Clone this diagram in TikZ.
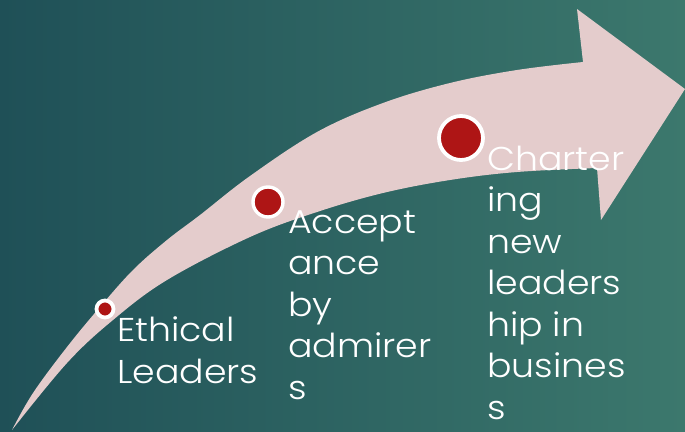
\documentclass[tikz,border=0pt]{standalone}
\usepackage{fontspec}
\setmainfont{Poppins Light}[FakeStretch=1.1]
\definecolor{bgleft}{HTML}{1F5057}
\definecolor{bgright}{HTML}{3C786D}
\definecolor{arrowpink}{HTML}{E4CCCC}
\definecolor{dotred}{HTML}{AE1515}

\begin{document}
\begin{tikzpicture}[x=1pt,y=-1pt]

\tikzstyle{dot}=[circle,fill=dotred,draw=white,inner sep=0pt]
\tikzstyle{txt}=[text=white,anchor=base west,align=left,inner sep=0pt,font=\fontsize{33}{41.5}\selectfont]

\useasboundingbox (0,0) rectangle (685,431);
\shade[left color=bgleft,right color=bgright] (0,0) rectangle (685,431);

% the rising arrow
\fill[arrowpink] plot[smooth,tension=0.6] coordinates {(12,430) (33,393) (67,347) (100,307) (133,270) (167,240) (200,215) (250,176) (317,132) (383,103) (450,83) (517,70) (583,62)}
  -- (577,9) -- (685,89) -- (601,220) -- (597,168)
  -- plot[smooth,tension=0.6] coordinates {(597,168) (517,172) (450,180) (383,193) (317,212) (250,237) (167,280) (113,320) (67,363) (12,430)} -- cycle;

\node[dot, minimum size=17pt, line width=3.8pt] (1) at (105,309){};
\node[dot, minimum size=30pt, line width=3.4pt] (2) at (268,202){};
\node[dot, minimum size=44pt, line width=3.8pt] (3) at (461,138){};

% base anchor sits on the last line
\node[txt] (4) at (117,383) {Ethical\\Leaders};
\node[txt] (5) at (288,399) {Accept\\ance\\by\\admirer\\s};
\node[txt] (6) at (487,419) {Charter\\ing\\new\\leaders\\hip in\\busines\\s};
\end{tikzpicture}
\end{document}
